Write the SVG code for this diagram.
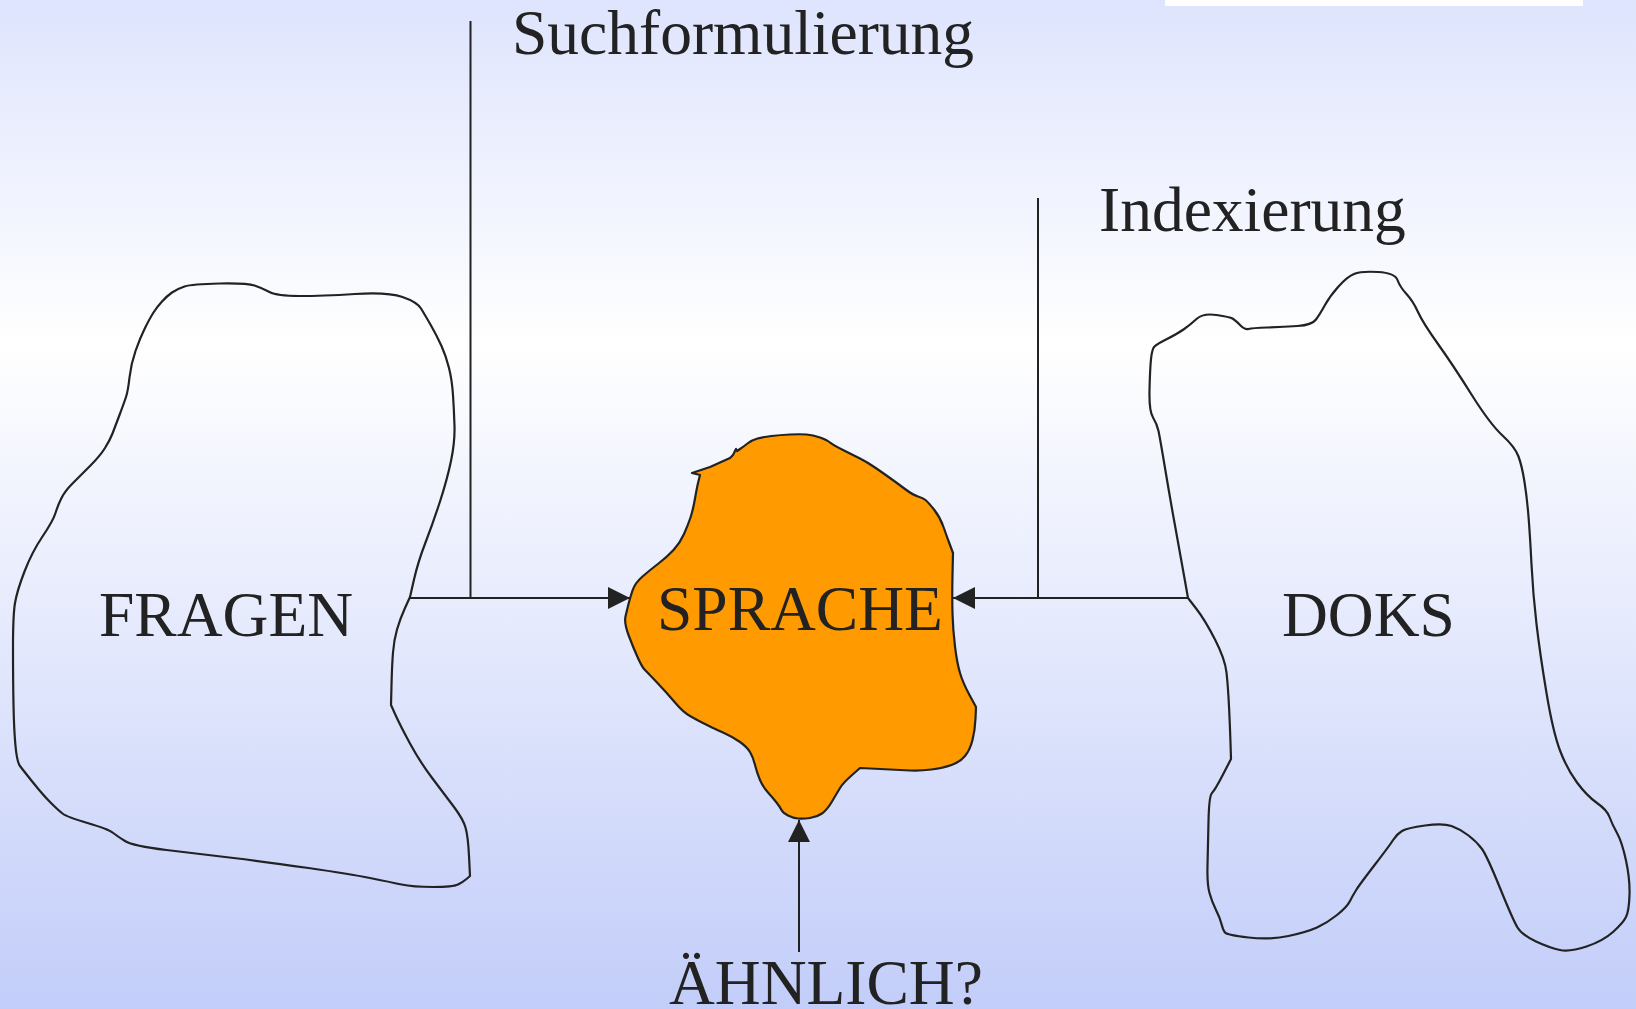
<svg xmlns="http://www.w3.org/2000/svg" width="1636" height="1009" viewBox="0 0 1636 1009">
<defs>
<linearGradient id="bg" x1="0" y1="0" x2="0" y2="1">
<stop offset="0" stop-color="#dee4fd"/>
<stop offset="0.34" stop-color="#ffffff"/>
<stop offset="1" stop-color="#c2cdf9"/>
</linearGradient>
<marker id="arr" viewBox="0 0 22 22" refX="22" refY="11" markerWidth="22" markerHeight="22" markerUnits="userSpaceOnUse" orient="auto">
<path d="M0,0 L22,11 L0,22 Z" fill="#222"/>
</marker>
<style>
.blob{fill:none;stroke:#222;stroke-width:2.2;stroke-linejoin:round}
.orange{fill:#ff9a00}
.lbl{font-family:"Liberation Serif","Times New Roman",serif;font-size:63.5px;fill:#222}
.con{stroke:#222;stroke-width:2;fill:none}
</style>
</defs>
<rect width="1636" height="1009" fill="url(#bg)"/>
<rect x="1165" y="0" width="418" height="6" fill="#ffffff"/>

<g id="fragen">
<path class="blob" d="M184.5,286.5 Q192,284 219.5,283.5 Q247,283 254.5,285.5 Q262,288 269.5,292 Q277,296 299.5,296 Q322,296 355,294 Q388,292 402.5,297 Q417,302 421,308.5 Q425,315 431,325.5 Q437,336 441.5,346 Q446,356 449,368 Q452,380 453,395 Q454,410 454.5,426 Q455,442 451,461 Q447,480 440,501.5 Q433,523 425.5,542.5 Q418,562 414,579.5 L410,597 L405,608 Q400,619 397,629.5 Q394,640 393,652.5 Q392,665 391.5,685 L391,705 L395.5,715 Q400,725 410,743.5 Q420,762 432.5,778.5 Q445,795 454,807 Q463,819 465.5,827.5 Q468,836 469,856 L470,876 L466.5,879 Q463,882 458,884.5 Q453,887 433,887 Q413,887 401.5,884.5 Q390,882 370,878 Q350,874 308.5,868 Q267,862 233.5,858 Q200,854 166.5,850 Q133,846 125,841 Q117,836 112.5,832.5 Q108,829 87.5,823 Q67,817 62.5,813.5 Q58,810 50.5,802.5 Q43,795 33,782.5 Q23,770 20,766 Q17,762 15.5,746 Q14,730 13.5,705 Q13,680 13,647.5 Q13,615 15,603 Q17,591 24.5,571.5 Q32,552 42.5,536.5 Q53,521 55.5,513 Q58,505 61.5,498 Q65,491 72.5,483.5 Q80,476 90,466 Q100,456 105,448 Q110,440 112.5,433.5 Q115,427 119.5,415 Q124,403 126,397 Q128,391 129.5,377.5 Q131,364 135.5,351 Q140,338 145,328 Q150,318 153.5,312.5 Q157,307 162,301.5 Q167,296 172,292.5 Q177,289 184.5,286.5 Z"/>
<text class="lbl" x="99" y="636">FRAGEN</text>
</g>

<g id="sprache">
<path class="blob orange" d="M692,473 L700,475 L698.5,481 Q697,487 695,498.5 Q693,510 690.5,517.5 Q688,525 684,534 Q680,543 673.5,550 Q667,557 658.5,563.5 Q650,570 642.5,576.5 Q635,583 632.5,590.5 Q630,598 628.5,604 Q627,610 625.5,616.5 Q624,623 628.5,635 Q633,647 637.5,657 Q642,667 644.5,669.5 Q647,672 657,682.5 Q667,693 675,702.5 Q683,712 690,716 Q697,720 702,722.5 Q707,725 710,726.5 Q713,728 723,732.5 Q733,737 740,742 Q747,747 750,752 Q753,757 755,765 Q757,773 760,780 Q763,787 768,792.5 Q773,798 776.5,802.5 Q780,807 781.5,810 Q783,813 788,815.5 Q793,818 798,818.5 Q803,819 810,818 Q817,817 822,813.5 Q827,810 832,801.5 Q837,793 840,788 Q843,783 851.5,775.5 L860,768 L880,769 Q900,770 910,770.5 Q920,771 931.5,769.5 Q943,768 951.5,765 Q960,762 965,756 Q970,750 972.5,740 Q975,730 975.5,718.5 L976,707 L969.5,695 Q963,683 960,673 Q957,663 955,646.5 Q953,630 952.5,613.5 Q952,597 952.5,575 L953,553 L950,545 Q947,537 943.5,527 Q940,517 934,509.5 Q928,502 925.5,500 Q923,498 918,496.5 Q913,495 905,489 Q897,483 890,478 Q883,473 875,467.5 Q867,462 860,458.5 Q853,455 843,450 Q833,445 830,442.5 Q827,440 820,437.5 Q813,435 806.5,434.5 Q800,434 790,434.5 Q780,435 771.5,436 Q763,437 757.5,438.5 Q752,440 747.5,443.5 Q743,447 740,449 L737,451 L736,449 L733,455 L730,458 L710,467 Z"/>
<text class="lbl" x="657" y="630">SPRACHE</text>
</g>

<g id="doks">
<path class="blob" d="M1354,274 Q1361,271 1378,272 Q1395,273 1397.5,280 Q1400,287 1406.5,294 Q1413,301 1418,312 Q1423,323 1438,344 Q1453,365 1471.5,394.5 Q1490,424 1502.5,435.5 Q1515,447 1518.5,456.5 Q1522,466 1524.5,482 Q1527,498 1528.5,516.5 Q1530,535 1531.5,564.5 Q1533,594 1536.5,624 Q1540,654 1546.5,693 Q1553,732 1560,750.5 Q1567,769 1577,782.5 Q1587,796 1597,803 Q1607,810 1609.5,817 Q1612,824 1617,833 Q1622,842 1626,860.5 Q1630,879 1629.5,895 Q1629,911 1626,917 Q1623,923 1613,932 Q1603,941 1586.5,946.5 Q1570,952 1560,950 Q1550,948 1536,941.5 Q1522,935 1517.5,927.5 Q1513,920 1500,888 Q1487,856 1482,849 Q1477,842 1468.5,835.5 Q1460,829 1451.5,826 Q1443,823 1425,825.5 Q1407,828 1402,831 Q1397,834 1393.5,839.5 Q1390,845 1375,864.5 Q1360,884 1356.5,889.5 Q1353,895 1350,901 Q1347,907 1337,915 Q1327,923 1317,927.5 Q1307,932 1288.5,936 Q1270,940 1248.5,937.5 Q1227,935 1225,932.5 Q1223,930 1221.5,924 Q1220,918 1216,910 Q1212,902 1209.5,893 Q1207,884 1207.5,865.5 Q1208,847 1208.5,821.5 Q1209,796 1212,793 Q1215,790 1223,774.5 L1231,759 L1230.5,743 Q1230,727 1229,706.5 Q1228,686 1226.5,672.5 Q1225,659 1215,639.5 Q1205,620 1196.5,609 L1188,598 L1184,575.5 Q1180,553 1175,525.5 Q1170,498 1165,468 Q1160,438 1158.5,431 Q1157,424 1153,417.5 Q1149,411 1149.5,390 Q1150,369 1151,359 Q1152,349 1154.5,346.5 Q1157,344 1167,339 Q1177,334 1183.5,329.5 Q1190,325 1196.5,319 Q1203,313 1216.5,315 Q1230,317 1232.5,318.5 Q1235,320 1240,325 Q1245,330 1248.5,329 Q1252,328 1267.5,327.5 Q1283,327 1297.5,326 Q1312,325 1316,319.5 Q1320,314 1325,305 Q1330,296 1338.5,286.5 Q1347,277 1354,274 Z"/>
<text class="lbl" x="1282" y="636">DOKS</text>
</g>

<g id="connectors">
<line class="con" x1="470.5" y1="21" x2="470.5" y2="598"/>
<line class="con" x1="410" y1="598" x2="630" y2="598" marker-end="url(#arr)"/>
<line class="con" x1="1038" y1="198" x2="1038" y2="598"/>
<line class="con" x1="1188" y1="598" x2="953" y2="598" marker-end="url(#arr)"/>
<line class="con" x1="799" y1="952" x2="799" y2="820" marker-end="url(#arr)"/>
</g>

<g id="labels">
<text class="lbl" x="512" y="54">Suchformulierung</text>
<text class="lbl" x="1099" y="231">Indexierung</text>
<text class="lbl" x="669" y="1004">ÄHNLICH?</text>
</g>
</svg>
